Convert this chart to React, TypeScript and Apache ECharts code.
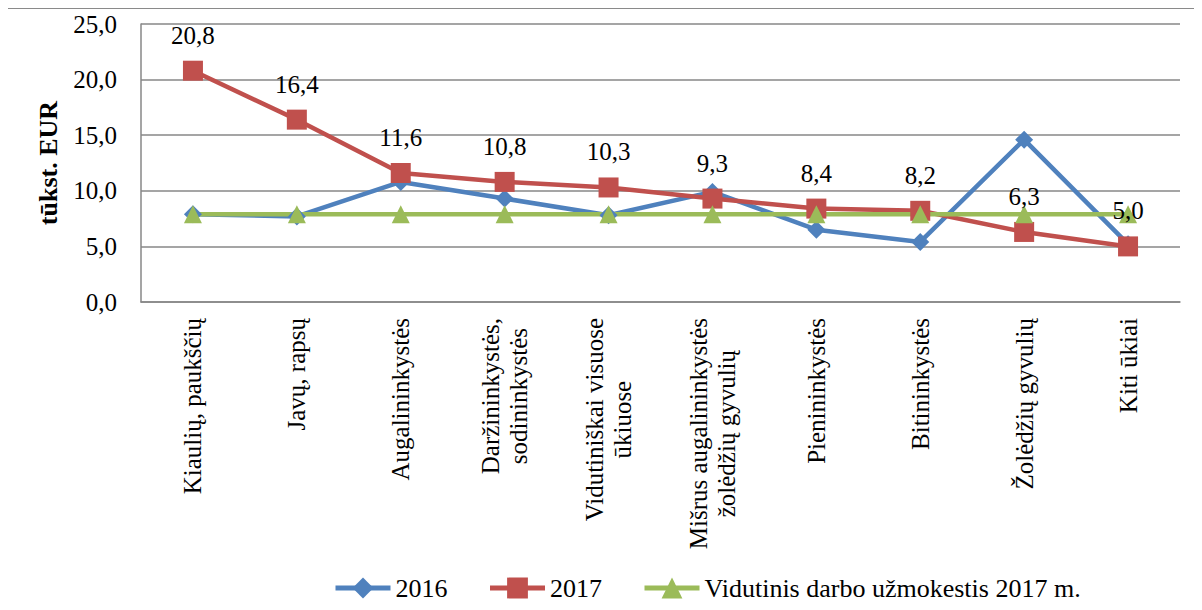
import React, { useEffect, useRef } from "react";
import * as echarts from "echarts";

const categories = [
  "Kiaulių, paukščių",
  "Javų, rapsų",
  "Augalininkystės",
  "Daržininkystės,\nsodininkystės",
  "Vidutiniškai visuose\nūkiuose",
  "Mišrus augalininkystės\nžolėdžių gyvulių",
  "Pienininkystės",
  "Bitininkystės",
  "Žolėdžių gyvulių",
  "Kiti ūkiai",
];
const values2016 = [7.9, 7.7, 10.8, 9.3, 7.8, 9.9, 6.5, 5.4, 14.6, 5.2];
const values2017 = [20.8, 16.4, 11.6, 10.8, 10.3, 9.3, 8.4, 8.2, 6.3, 5.0];
const avgWage2017 = [7.9, 7.9, 7.9, 7.9, 7.9, 7.9, 7.9, 7.9, 7.9, 7.9];
const seriesNames = ["2016", "2017", "Vidutinis darbo užmokestis 2017 m."];

const FONT = "Liberation Serif";
const fmt = (v: number) => v.toFixed(1).replace(".", ",");

export default function App() {
  const ref = useRef<HTMLDivElement>(null);
  useEffect(() => {
    if (!ref.current) return;
    const chart = echarts.init(ref.current, undefined, { renderer: "svg" });
    chart.setOption({
      animation: false,
      backgroundColor: "#ffffff",
      textStyle: { fontFamily: FONT },
      grid: { left: 133, top: 15, width: 1039, height: 278 },
      legend: {
        left: 325,
        top: 566,
        padding: 0,
        itemWidth: 55,
        itemHeight: 26,
        itemGap: 40,
        lineStyle: { width: 5 },
        textStyle: { fontFamily: FONT, fontSize: 26, color: "#000" },
        data: seriesNames,
      },
      xAxis: {
        type: "category",
        data: categories,
        boundaryGap: true,
        axisLine: { lineStyle: { color: "#878787", width: 1.5 } },
        axisTick: { show: false },
        axisLabel: {
          rotate: 90,
          interval: 0,
          margin: 16,
          color: "#000",
          fontFamily: FONT,
          fontSize: 25,
          lineHeight: 28,
          formatter: (v: string) =>
            v
              .split("\n")
              .map((l) => `{c|${l}}`)
              .join("\n"),
          rich: {
            c: {
              align: "center",
              fontFamily: FONT,
              fontSize: 25,
              lineHeight: 28,
              color: "#000",
            },
          },
        },
      },
      yAxis: {
        type: "value",
        min: 0,
        max: 25,
        interval: 5,
        name: "tūkst. EUR",
        nameLocation: "middle",
        nameRotate: 90,
        nameGap: 80,
        nameTextStyle: {
          fontFamily: FONT,
          fontSize: 26,
          fontWeight: "bold",
          color: "#000",
        },
        axisLine: { show: true, lineStyle: { color: "#878787", width: 1.5 } },
        axisTick: { show: false },
        axisLabel: {
          margin: 24,
          color: "#000",
          fontFamily: FONT,
          fontSize: 25,
          formatter: (v: number) => fmt(v),
        },
        splitLine: { lineStyle: { color: "#878787", width: 1.5 } },
      },
      series: [
        {
          name: seriesNames[0],
          type: "line",
          data: values2016,
          symbol: "diamond",
          symbolSize: 18,
          color: "#4F81BD",
          lineStyle: { width: 4.5, color: "#4F81BD" },
          itemStyle: { color: "#4F81BD" },
        },
        {
          name: seriesNames[1],
          type: "line",
          data: values2017,
          symbol: "rect",
          symbolSize: 20,
          color: "#C0504D",
          lineStyle: { width: 4.5, color: "#C0504D" },
          itemStyle: { color: "#C0504D" },
          label: {
            show: true,
            position: "top",
            distance: 13,
            fontFamily: FONT,
            fontSize: 25,
            color: "#000",
            formatter: (p: any) => fmt(p.value),
          },
        },
        {
          name: seriesNames[2],
          type: "line",
          data: avgWage2017,
          symbol: "triangle",
          symbolSize: 18,
          color: "#9BBB59",
          lineStyle: { width: 4.5, color: "#9BBB59" },
          itemStyle: { color: "#9BBB59" },
        },
      ],
    });
    return () => chart.dispose();
  }, []);
  return (
    <div
      style={{
        marginLeft: -1,
        width: 1194,
        height: 603,
        border: "1px solid #8a8a8a",
        boxSizing: "border-box",
      }}
    >
      <div ref={ref} style={{ width: 1192, height: 601 }} />
    </div>
  );
}
